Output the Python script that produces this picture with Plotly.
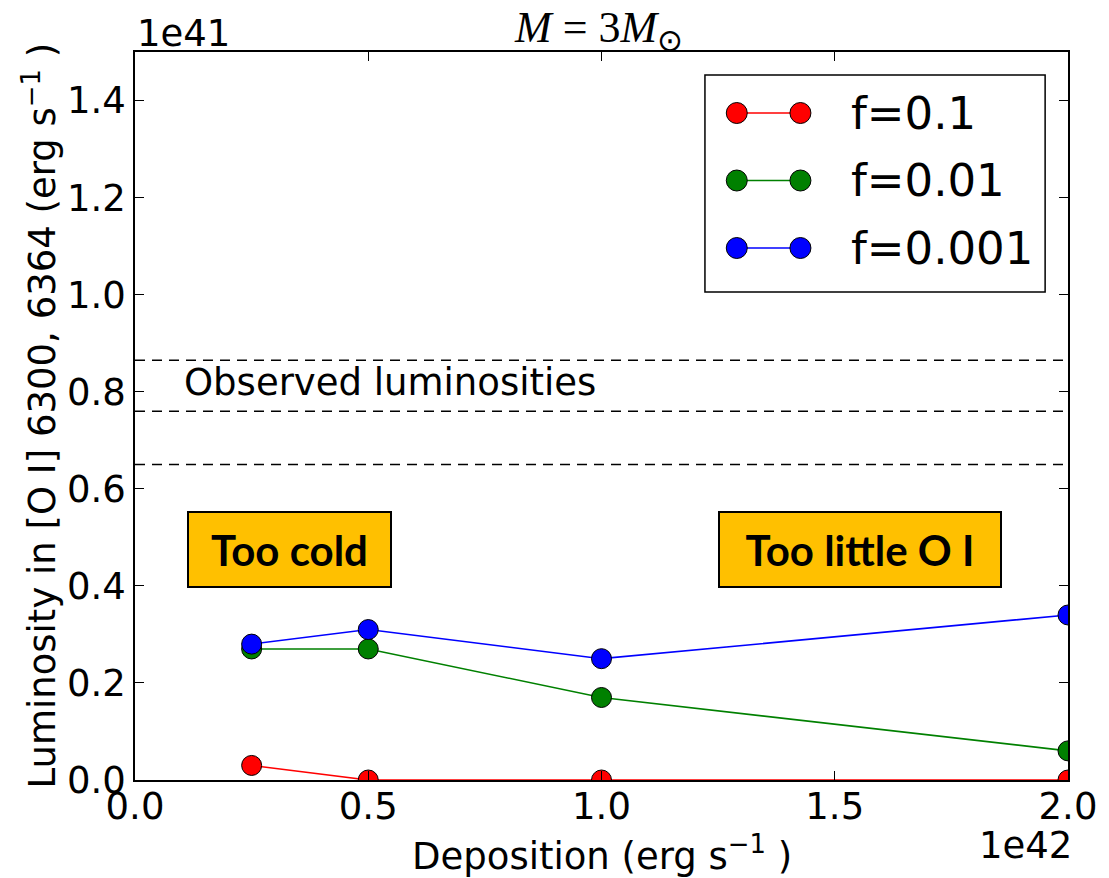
import plotly.graph_objects as go

# ---- data (x in units of 1e42 erg/s, y in units of 1e41 erg/s) ----
deposition = [0.25, 0.5, 1.0, 2.0]
lum_f01 = [0.03, 0.0, 0.0, 0.0]
lum_f001 = [0.27, 0.27, 0.17, 0.06]
lum_f0001 = [0.28, 0.31, 0.25, 0.34]
series_names = ["f=0.1", "f=0.01", "f=0.001"]
series_colors = ["#ff0000", "#008000", "#0000ff"]
observed_lum = [0.865, 0.76, 0.65]
x_ticks = [0.0, 0.5, 1.0, 1.5, 2.0]
y_ticks = [0.0, 0.2, 0.4, 0.6, 0.8, 1.0, 1.2, 1.4]

W, H = 1109, 878
L, R, T, B = 135, 1073, 52, 780
PW, PH = R - L, B - T

def px(x):
    return (x - L) / PW

def py(y):
    return (B - y) / PH

FONT = "DejaVu Sans"
fig = go.Figure()
for name, col, ys in zip(series_names, series_colors, [lum_f01, lum_f001, lum_f0001]):
    fig.add_trace(go.Scatter(
        x=deposition, y=ys, mode="lines+markers", name=name,
        line=dict(color=col, width=1.6),
        marker=dict(size=20, color=col, line=dict(color="black", width=1)),
        cliponaxis=True, showlegend=False))

shapes = []
for v in observed_lum:
    shapes.append(dict(type="line", xref="paper", x0=0, x1=1, yref="y", y0=v, y1=v,
                       line=dict(color="black", width=1.5, dash="10px,7px")))

# legend (manual, matplotlib style)
shapes.append(dict(type="rect", xref="paper", yref="paper",
                   x0=px(708), x1=px(1050), y0=py(292), y1=py(75),
                   line=dict(color="black", width=1.5), fillcolor="white", layer="above"))
annotations = []
for i, (name, col) in enumerate(zip(series_names, series_colors)):
    yy = py(113 + i * 67.5)
    shapes.append(dict(type="line", xref="paper", yref="paper", x0=px(740), x1=px(804),
                       y0=yy, y1=yy, line=dict(color=col, width=1.6), layer="above"))
    for cx in (740, 804):
        shapes.append(dict(type="circle", xref="paper", yref="paper",
                           xsizemode="pixel", ysizemode="pixel",
                           xanchor=px(cx), yanchor=yy, x0=-10.5, x1=10.5, y0=-10.5, y1=10.5,
                           fillcolor=col, line=dict(color="black", width=1), layer="above"))
    annotations.append(dict(xref="paper", yref="paper", x=px(853), y=yy, text=name,
                            showarrow=False, xanchor="left", yanchor="middle",
                            font=dict(family=FONT, size=45, color="black")))

# text boxes
for label, cx, w in [("Too cold", 0.3316, 201), ("Too little O I", 1.554, 280)]:
    annotations.append(dict(x=cx, y=0.475, xref="x", yref="y", text="<b>" + label + "</b>",
                            showarrow=False, bgcolor="#FFC000", bordercolor="black",
                            borderwidth=2, borderpad=0, width=w, height=73,
                            font=dict(family="Lato", size=42, color="black")))

annotations += [
    dict(x=0.1, y=0.82, xref="x", yref="y", text="Observed luminosities", showarrow=False,
         xanchor="left", yanchor="middle", font=dict(family=FONT, size=37, color="black")),
    dict(x=px(39), y=0.5, xref="paper", yref="paper", textangle=-90, showarrow=False,
         text="Luminosity in [O I] 6300, 6364 (erg s<sup>\u22121</sup> )",
         xanchor="center", yanchor="middle", font=dict(family=FONT, size=37, color="black")),
    dict(x=0.5, y=py(853), xref="paper", yref="paper", showarrow=False,
         text="Deposition (erg s<sup>\u22121</sup> )", xanchor="center", yanchor="middle",
         font=dict(family=FONT, size=37, color="black")),
    dict(x=px(1079), y=py(846), xref="paper", yref="paper", showarrow=False, text="1e42",
         xanchor="right", yanchor="middle", font=dict(family=FONT, size=37, color="black")),
    dict(x=px(135), y=py(33), xref="paper", yref="paper", showarrow=False, text="1e41",
         xanchor="left", yanchor="middle", font=dict(family=FONT, size=37, color="black")),
    dict(x=px(601), y=py(1), xref="paper", yref="paper", showarrow=False,
         text="<i>M</i> = 3<i>M</i><sub>\u2299</sub>", xanchor="center", yanchor="top",
         font=dict(family="Liberation Serif", size=44, color="black")),
]

axis_common = dict(showgrid=False, zeroline=False, showline=True, linecolor="black",
                   linewidth=1.5, mirror="ticks", ticks="inside", ticklen=9, tickwidth=1,
                   tickcolor="black", tickformat=".1f",
                   tickfont=dict(family=FONT, size=37, color="black"))
fig.update_layout(
    width=W, height=H, margin=dict(l=L, r=W - R, t=T, b=H - B),
    paper_bgcolor="white", plot_bgcolor="white",
    xaxis=dict(range=[0, 2], tickvals=x_ticks, ticklabelstandoff=-7, **axis_common),
    yaxis=dict(range=[0, 1.5], tickvals=y_ticks, **axis_common),
    shapes=shapes, annotations=annotations, showlegend=False,
)
fig.write_html("out.html")
